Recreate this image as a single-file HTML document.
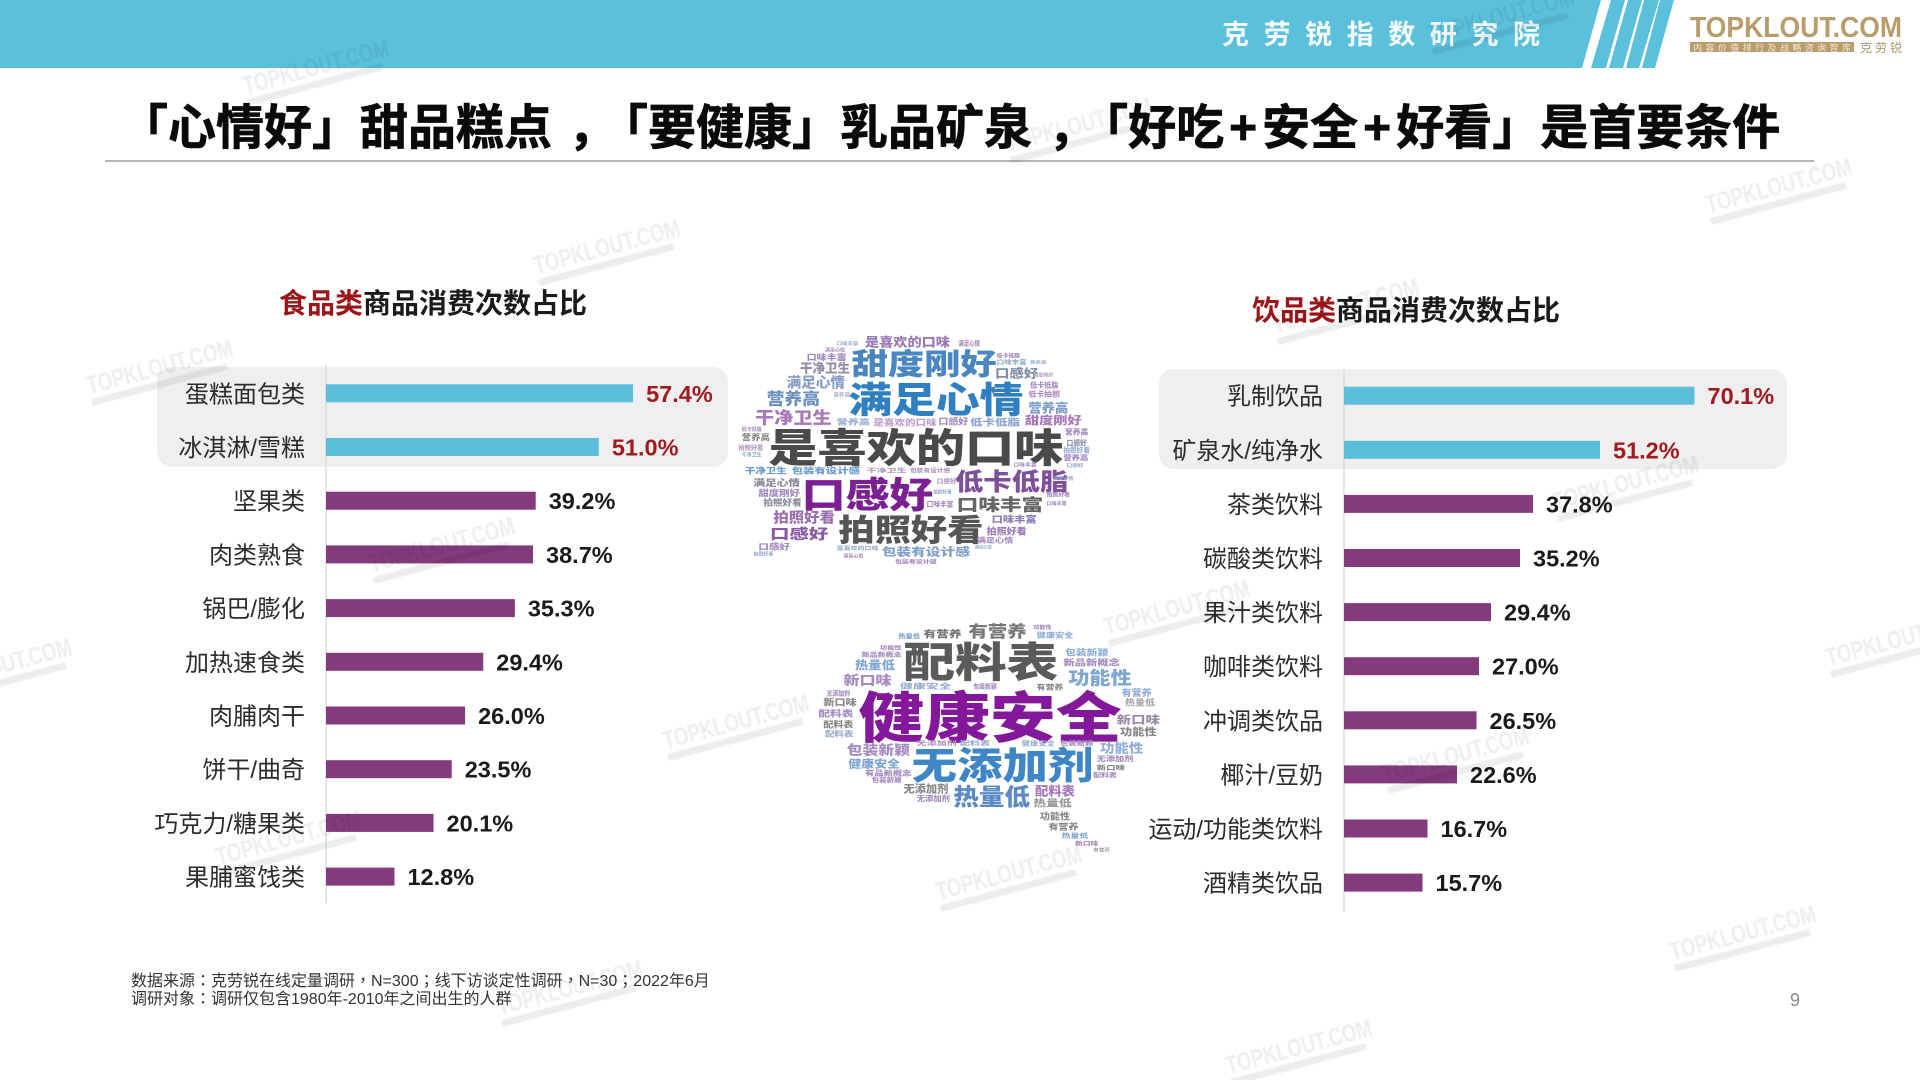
<!DOCTYPE html>
<html lang="zh-CN">
<head>
<meta charset="utf-8">
<title>甜品糕点与乳品矿泉消费次数占比</title>
<style>
html,body{margin:0;padding:0;background:#fff;width:1920px;height:1080px;overflow:hidden}
svg{display:block;font-family:"Liberation Sans","Noto Sans CJK SC",sans-serif;text-spacing-trim:space-all}
.cloud text{font-family:"Noto Sans CJK SC","Liberation Sans",sans-serif;font-weight:900}
.cloud{filter:blur(.35px)}
.wm text{font-family:"Liberation Sans",sans-serif;font-weight:700;font-size:25px;fill:#000;text-anchor:middle}
.wm{opacity:.065;filter:blur(.5px)}
</style>
</head>
<body>
<svg id="slide" width="1920" height="1080" viewBox="0 0 1920 1080" xmlns="http://www.w3.org/2000/svg">
  <g>
    <polygon points="0,0 1601,0 1582,68 0,68" fill="#5bc0dc"/>
    <polygon points="1611,0 1625,0 1606,68 1591,68" fill="#5bc0dc"/>
    <polygon points="1628,0 1642,0 1623,68 1609,68" fill="#5bc0dc"/>
    <polygon points="1644,0 1659,0 1639,68 1626,68" fill="#5bc0dc"/>
    <polygon points="1660,0 1674,0 1655,68 1642,68" fill="#5bc0dc"/>
    <text x="1222" y="44" font-size="27" font-weight="700" fill="#f4fbfd" textLength="318" lengthAdjust="spacing">克劳锐指数研究院</text>
  </g>
  <g>
    <text x="1690" y="37" font-size="29" font-weight="700" fill="#b99c6b" textLength="212" lengthAdjust="spacingAndGlyphs">TOPKLOUT.COM</text>
    <rect x="1690" y="42" width="164" height="10" fill="#b99c6b"/>
    <text x="1693" y="51" font-size="9" fill="#f3ead9" textLength="158" lengthAdjust="spacing">内容价值排行及战略咨询智库</text>
    <text x="1860" y="52" font-size="12" fill="#a8966f" textLength="42" lengthAdjust="spacing">克劳锐</text>
  </g>

  <text x="120" y="144" font-size="48" font-weight="700" fill="#0a0a0a" stroke="#0a0a0a" stroke-width=".7">「心情好」甜品糕点<tspan dx="16">，</tspan><tspan dx="-16">「</tspan>要健康」乳品矿泉<tspan dx="16">，</tspan><tspan dx="-16">「</tspan>好吃<tspan dx="5">+</tspan><tspan dx="5">安</tspan>全<tspan dx="5">+</tspan><tspan dx="5">好</tspan>看」是首要条件</text>
  <line x1="105" y1="161" x2="1814" y2="161" stroke="#8a8a8a" stroke-width="1.2"/>

  <text x="279" y="313" font-size="28" font-weight="700" fill="#1a1a1a"><tspan fill="#9c1518">食品类</tspan>商品消费次数占比</text>
  <text x="1252" y="320" font-size="28" font-weight="700" fill="#1a1a1a"><tspan fill="#9c1518">饮品类</tspan>商品消费次数占比</text>

  <rect x="157" y="367" width="571" height="100" rx="15" fill="#efefef"/>
  <rect x="1159" y="369" width="628" height="100" rx="15" fill="#efefef"/>

  <g id="food-chart"></g>
  <g id="drink-chart"></g>

  <!-- food word cloud: coordinates in 3x crop space -->
  <g class="cloud" transform="translate(720 320) scale(.33333)">
    <text x="145" y="426" font-size="119" textLength="885" lengthAdjust="spacingAndGlyphs" fill="#4a4a4a">是喜欢的口味</text>
    <text x="385" y="277" font-size="108" textLength="525" lengthAdjust="spacingAndGlyphs" fill="#2f7fc1">满足心情</text>
    <text x="395" y="164" font-size="88" textLength="435" lengthAdjust="spacingAndGlyphs" fill="#4a86c0">甜度刚好</text>
    <text x="245" y="562" font-size="108" textLength="395" lengthAdjust="spacingAndGlyphs" fill="#7b1f92">口感好</text>
    <text x="705" y="510" font-size="72" textLength="340" lengthAdjust="spacingAndGlyphs" fill="#7f4f9b">低卡低脂</text>
    <text x="710" y="571" font-size="50" textLength="260" lengthAdjust="spacingAndGlyphs" fill="#666">口味丰富</text>
    <text x="355" y="663" font-size="92" textLength="435" lengthAdjust="spacingAndGlyphs" fill="#555">拍照好看</text>
    <text x="160" y="607" font-size="42" textLength="185" lengthAdjust="spacingAndGlyphs" fill="#9b6fb0">拍照好看</text>
    <text x="150" y="657" font-size="43" textLength="175" lengthAdjust="spacingAndGlyphs" fill="#8a5aa5">口感好</text>
    <text x="815" y="608" font-size="27" textLength="135" lengthAdjust="spacingAndGlyphs" fill="#8b7eb8">口味丰富</text>
    <text x="800" y="643" font-size="27" textLength="120" lengthAdjust="spacingAndGlyphs" fill="#9a7bb5">拍照好看</text>
    <text x="770" y="668" font-size="20" textLength="110" lengthAdjust="spacingAndGlyphs" fill="#a58cc0">满足心情</text>
    <text x="100" y="498" font-size="27" textLength="140" lengthAdjust="spacingAndGlyphs" fill="#8a8a9a">满足心情</text>
    <text x="115" y="528" font-size="25" textLength="125" lengthAdjust="spacingAndGlyphs" fill="#a58cc0">甜度刚好</text>
    <text x="130" y="556" font-size="25" textLength="115" lengthAdjust="spacingAndGlyphs" fill="#8a8a9a">拍照好看</text>
    <text x="140" y="254" font-size="50" textLength="160" lengthAdjust="spacingAndGlyphs" fill="#6f93c0">营养高</text>
    <text x="105" y="311" font-size="49" textLength="230" lengthAdjust="spacingAndGlyphs" fill="#a878b8">干净卫生</text>
    <text x="200" y="202" font-size="43" textLength="175" lengthAdjust="spacingAndGlyphs" fill="#8aa0c5">满足心情</text>
    <text x="240" y="157" font-size="38" textLength="150" lengthAdjust="spacingAndGlyphs" fill="#8f8fa8">干净卫生</text>
    <text x="260" y="120" font-size="24" textLength="120" lengthAdjust="spacingAndGlyphs" fill="#a58cc0">口味丰富</text>
    <text x="435" y="79" font-size="37" textLength="255" lengthAdjust="spacingAndGlyphs" fill="#9a7ab5">是喜欢的口味</text>
    <text x="825" y="172" font-size="35" textLength="130" lengthAdjust="spacingAndGlyphs" fill="#7f8fa8">口感好</text>
    <text x="925" y="277" font-size="38" textLength="120" lengthAdjust="spacingAndGlyphs" fill="#7f9fc8">营养高</text>
    <text x="915" y="312" font-size="33" textLength="170" lengthAdjust="spacingAndGlyphs" fill="#a878b8">甜度刚好</text>
    <text x="750" y="316" font-size="28" textLength="150" lengthAdjust="spacingAndGlyphs" fill="#8fa5d0">低卡低脂</text>
    <text x="655" y="313" font-size="25" textLength="90" lengthAdjust="spacingAndGlyphs" fill="#a58cc0">口感好</text>
    <text x="460" y="316" font-size="25" textLength="190" lengthAdjust="spacingAndGlyphs" fill="#c0a0d0">是喜欢的口味</text>
    <text x="350" y="313" font-size="22" textLength="100" lengthAdjust="spacingAndGlyphs" fill="#9ab0d0">营养高</text>
    <text x="75" y="460" font-size="24" textLength="125" lengthAdjust="spacingAndGlyphs" fill="#6a9ad0">干净卫生</text>
    <text x="215" y="460" font-size="24" textLength="205" lengthAdjust="spacingAndGlyphs" fill="#6a9ad0">包装有设计感</text>
    <text x="440" y="458" font-size="17" textLength="120" lengthAdjust="spacingAndGlyphs" fill="#b09ac0">干净卫生</text>
    <text x="570" y="458" font-size="17" textLength="120" lengthAdjust="spacingAndGlyphs" fill="#b09ac0">包装有设计感</text>
    <text x="485" y="707" font-size="32" textLength="265" lengthAdjust="spacingAndGlyphs" fill="#7f9fc8">包装有设计感</text>
    <text x="115" y="688" font-size="24" textLength="95" lengthAdjust="spacingAndGlyphs" fill="#a58cc0">口感好</text>
    <text x="65" y="360" font-size="24" textLength="85" lengthAdjust="spacingAndGlyphs" fill="#888">营养高</text>
    <text x="65" y="333" font-size="16" textLength="60" lengthAdjust="spacingAndGlyphs" fill="#b09ac0">低卡低脂</text>
    <text x="55" y="390" font-size="18" textLength="75" lengthAdjust="spacingAndGlyphs" fill="#b09ac0">拍照好看</text>
    <text x="65" y="410" font-size="15" textLength="60" lengthAdjust="spacingAndGlyphs" fill="#9ab0d0">干净卫生</text>
    <text x="1035" y="343" font-size="22" textLength="70" lengthAdjust="spacingAndGlyphs" fill="#a58cc0">营养高</text>
    <text x="1040" y="376" font-size="22" textLength="60" lengthAdjust="spacingAndGlyphs" fill="#8f8fa8">口感好</text>
    <text x="1030" y="398" font-size="20" textLength="80" lengthAdjust="spacingAndGlyphs" fill="#9ab0d0">拍照好看</text>
    <text x="1030" y="420" font-size="21" textLength="75" lengthAdjust="spacingAndGlyphs" fill="#a58cc0">营养高</text>
    <text x="1040" y="441" font-size="14" textLength="50" lengthAdjust="spacingAndGlyphs" fill="#9ab0d0">口感好</text>
    <text x="930" y="203" font-size="21" textLength="85" lengthAdjust="spacingAndGlyphs" fill="#a58cc0">低卡低脂</text>
    <text x="925" y="230" font-size="21" textLength="95" lengthAdjust="spacingAndGlyphs" fill="#b08cc0">低卡拍照</text>
    <text x="830" y="133" font-size="18" textLength="90" lengthAdjust="spacingAndGlyphs" fill="#9ab0d0">口味丰富</text>
    <text x="830" y="113" font-size="16" textLength="70" lengthAdjust="spacingAndGlyphs" fill="#a58cc0">低卡低脂</text>
    <text x="715" y="76" font-size="19" textLength="65" lengthAdjust="spacingAndGlyphs" fill="#a58cc0">满足心情</text>
    <text x="350" y="690" font-size="16" textLength="125" lengthAdjust="spacingAndGlyphs" fill="#9ab0d0">是喜欢的口味</text>
    <text x="525" y="730" font-size="16" textLength="125" lengthAdjust="spacingAndGlyphs" fill="#a58cc0">包装有设计感</text>
    <text x="650" y="490" font-size="18" textLength="60" lengthAdjust="spacingAndGlyphs" fill="#b09ac0">口感好</text>
    <text x="620" y="560" font-size="20" textLength="80" lengthAdjust="spacingAndGlyphs" fill="#a58cc0">口味丰富</text>
    <text x="980" y="530" font-size="16" textLength="70" lengthAdjust="spacingAndGlyphs" fill="#a58cc0">拍照好看</text>
    <text x="340" y="230" font-size="15" textLength="50" lengthAdjust="spacingAndGlyphs" fill="#b0b8cc">营养高</text>
    <text x="940" y="170" font-size="13" textLength="60" lengthAdjust="spacingAndGlyphs" fill="#b8a8cc">甜度刚好</text>
    <text x="930" y="130" font-size="12" textLength="50" lengthAdjust="spacingAndGlyphs" fill="#9ab0d0">营养高</text>
    <text x="880" y="440" font-size="15" textLength="70" lengthAdjust="spacingAndGlyphs" fill="#b09ac0">口味丰富</text>
    <text x="1000" y="480" font-size="14" textLength="60" lengthAdjust="spacingAndGlyphs" fill="#9ab0d0">满足心情</text>
    <text x="980" y="555" font-size="14" textLength="60" lengthAdjust="spacingAndGlyphs" fill="#a58cc0">口味丰富</text>
    <text x="640" y="520" font-size="13" textLength="55" lengthAdjust="spacingAndGlyphs" fill="#9ab0d0">拍照好看</text>
    <text x="350" y="75" font-size="13" textLength="65" lengthAdjust="spacingAndGlyphs" fill="#9ab0d0">口味丰富</text>
    <text x="315" y="95" font-size="13" textLength="60" lengthAdjust="spacingAndGlyphs" fill="#a58cc0">满足心情</text>
    <text x="100" y="706" font-size="13" textLength="60" lengthAdjust="spacingAndGlyphs" fill="#9ab0d0">拍照好看</text>
    <text x="370" y="712" font-size="13" textLength="60" lengthAdjust="spacingAndGlyphs" fill="#a58cc0">满足心情</text>
    <text x="765" y="685" font-size="12" textLength="50" lengthAdjust="spacingAndGlyphs" fill="#9ab0d0">满足心情</text>
  </g>

  <!-- drink word cloud: coordinates in 3x crop space -->
  <g class="cloud" transform="translate(810 600) scale(.33333)">
    <text x="145" y="412" font-size="166" textLength="790" lengthAdjust="spacingAndGlyphs" fill="#84189a">健康安全</text>
    <text x="280" y="231" font-size="124" textLength="465" lengthAdjust="spacingAndGlyphs" fill="#5a5a5a">配料表</text>
    <text x="305" y="537" font-size="113" textLength="545" lengthAdjust="spacingAndGlyphs" fill="#3f86c6">无添加剂</text>
    <text x="430" y="615" font-size="70" textLength="230" lengthAdjust="spacingAndGlyphs" fill="#5b8ac5">热量低</text>
    <text x="475" y="111" font-size="48" textLength="175" lengthAdjust="spacingAndGlyphs" fill="#777">有营养</text>
    <text x="340" y="113" font-size="29" textLength="115" lengthAdjust="spacingAndGlyphs" fill="#777">有营养</text>
    <text x="135" y="207" font-size="34" textLength="120" lengthAdjust="spacingAndGlyphs" fill="#7fa5d0">热量低</text>
    <text x="100" y="255" font-size="39" textLength="145" lengthAdjust="spacingAndGlyphs" fill="#a58cc0">新口味</text>
    <text x="775" y="254" font-size="54" textLength="190" lengthAdjust="spacingAndGlyphs" fill="#7fa5d0">功能性</text>
    <text x="110" y="465" font-size="41" textLength="190" lengthAdjust="spacingAndGlyphs" fill="#a58cc0">包装新颖</text>
    <text x="115" y="503" font-size="32" textLength="155" lengthAdjust="spacingAndGlyphs" fill="#7fa5d0">健康安全</text>
    <text x="870" y="457" font-size="38" textLength="130" lengthAdjust="spacingAndGlyphs" fill="#8fb0d8">功能性</text>
    <text x="930" y="406" font-size="30" textLength="110" lengthAdjust="spacingAndGlyphs" fill="#888">功能性</text>
    <text x="920" y="370" font-size="32" textLength="130" lengthAdjust="spacingAndGlyphs" fill="#9a8aa8">新口味</text>
    <text x="935" y="288" font-size="27" textLength="90" lengthAdjust="spacingAndGlyphs" fill="#8fb0d8">有营养</text>
    <text x="945" y="316" font-size="25" textLength="90" lengthAdjust="spacingAndGlyphs" fill="#aaa">热量低</text>
    <text x="675" y="587" font-size="38" textLength="120" lengthAdjust="spacingAndGlyphs" fill="#a878b8">配料表</text>
    <text x="670" y="620" font-size="29" textLength="115" lengthAdjust="spacingAndGlyphs" fill="#999">热量低</text>
    <text x="280" y="578" font-size="32" textLength="135" lengthAdjust="spacingAndGlyphs" fill="#888">无添加剂</text>
    <text x="320" y="603" font-size="22" textLength="100" lengthAdjust="spacingAndGlyphs" fill="#a58cc0">无添加剂</text>
    <text x="690" y="658" font-size="27" textLength="90" lengthAdjust="spacingAndGlyphs" fill="#888">功能性</text>
    <text x="715" y="688" font-size="24" textLength="90" lengthAdjust="spacingAndGlyphs" fill="#888">有营养</text>
    <text x="755" y="714" font-size="18" textLength="80" lengthAdjust="spacingAndGlyphs" fill="#7fa5d0">热量低</text>
    <text x="795" y="737" font-size="17" textLength="70" lengthAdjust="spacingAndGlyphs" fill="#a58cc0">新口味</text>
    <text x="850" y="754" font-size="14" textLength="50" lengthAdjust="spacingAndGlyphs" fill="#aaa">有营养</text>
    <text x="760" y="196" font-size="25" textLength="170" lengthAdjust="spacingAndGlyphs" fill="#a58cc0">新品新概念</text>
    <text x="765" y="166" font-size="25" textLength="130" lengthAdjust="spacingAndGlyphs" fill="#8fb0d8">包装新颖</text>
    <text x="210" y="149" font-size="16" textLength="65" lengthAdjust="spacingAndGlyphs" fill="#a58cc0">功能性</text>
    <text x="155" y="171" font-size="18" textLength="120" lengthAdjust="spacingAndGlyphs" fill="#a58cc0">新品新概念</text>
    <text x="50" y="286" font-size="19" textLength="70" lengthAdjust="spacingAndGlyphs" fill="#a58cc0">无添加剂</text>
    <text x="40" y="316" font-size="28" textLength="100" lengthAdjust="spacingAndGlyphs" fill="#888">新口味</text>
    <text x="25" y="350" font-size="26" textLength="105" lengthAdjust="spacingAndGlyphs" fill="#a58cc0">配料表</text>
    <text x="40" y="383" font-size="25" textLength="90" lengthAdjust="spacingAndGlyphs" fill="#888">配料表</text>
    <text x="45" y="410" font-size="22" textLength="85" lengthAdjust="spacingAndGlyphs" fill="#9ab0d0">配料表</text>
    <text x="270" y="266" font-size="21" textLength="155" lengthAdjust="spacingAndGlyphs" fill="#9ab0d0">健康安全</text>
    <text x="490" y="266" font-size="19" textLength="70" lengthAdjust="spacingAndGlyphs" fill="#a58cc0">包装新颖</text>
    <text x="680" y="268" font-size="21" textLength="80" lengthAdjust="spacingAndGlyphs" fill="#888">有营养</text>
    <text x="860" y="483" font-size="21" textLength="110" lengthAdjust="spacingAndGlyphs" fill="#a58cc0">无添加剂</text>
    <text x="860" y="510" font-size="18" textLength="85" lengthAdjust="spacingAndGlyphs" fill="#888">新口味</text>
    <text x="850" y="533" font-size="18" textLength="70" lengthAdjust="spacingAndGlyphs" fill="#a58cc0">配料表</text>
    <text x="635" y="436" font-size="19" textLength="100" lengthAdjust="spacingAndGlyphs" fill="#9ab0d0">健康安全</text>
    <text x="165" y="526" font-size="21" textLength="140" lengthAdjust="spacingAndGlyphs" fill="#a58cc0">有品新概念</text>
    <text x="185" y="546" font-size="19" textLength="90" lengthAdjust="spacingAndGlyphs" fill="#a58cc0">包装新颖</text>
    <text x="265" y="116" font-size="18" textLength="65" lengthAdjust="spacingAndGlyphs" fill="#7fa5d0">热量低</text>
    <text x="670" y="87" font-size="16" textLength="55" lengthAdjust="spacingAndGlyphs" fill="#a58cc0">功能性</text>
    <text x="680" y="113" font-size="20" textLength="110" lengthAdjust="spacingAndGlyphs" fill="#8fb0d8">健康安全</text>
    <text x="320" y="436" font-size="18" textLength="120" lengthAdjust="spacingAndGlyphs" fill="#b09ac0">无添加剂</text>
    <text x="450" y="436" font-size="18" textLength="90" lengthAdjust="spacingAndGlyphs" fill="#9ab0d0">配料表</text>
    <text x="750" y="436" font-size="18" textLength="100" lengthAdjust="spacingAndGlyphs" fill="#a58cc0">包装新颖</text>
  </g>

  <g lang="zh-Hant" font-size="16" fill="#333" style='font-family:"Liberation Sans","Noto Sans CJK TC",sans-serif'>
    <text x="131" y="986">数据来源：克劳锐在线定量调研，N=300；线下访谈定性调研，N=30；2022年6月</text>
    <text x="131" y="1004">调研对象：调研仅包含1980年-2010年之间出生的人群</text>
  </g>
  <text x="1790" y="1006" font-size="18" fill="#8a8a8a">9</text>

  <g transform="translate(3 4)">
    <g class="wm" transform="translate(315 71) rotate(-15)"><text y="0" textLength="150" lengthAdjust="spacingAndGlyphs">TOPKLOUT.COM</text><rect x="-75" y="5" width="140" height="7"/></g>
    <g class="wm" transform="translate(606 251) rotate(-15)"><text y="0" textLength="150" lengthAdjust="spacingAndGlyphs">TOPKLOUT.COM</text><rect x="-75" y="5" width="140" height="7"/></g>
    <g class="wm" transform="translate(159 371) rotate(-15)"><text y="0" textLength="150" lengthAdjust="spacingAndGlyphs">TOPKLOUT.COM</text><rect x="-75" y="5" width="140" height="7"/></g>
    <g class="wm" transform="translate(441 549) rotate(-15)"><text y="0" textLength="150" lengthAdjust="spacingAndGlyphs">TOPKLOUT.COM</text><rect x="-75" y="5" width="140" height="7"/></g>
    <g class="wm" transform="translate(735 726) rotate(-15)"><text y="0" textLength="150" lengthAdjust="spacingAndGlyphs">TOPKLOUT.COM</text><rect x="-75" y="5" width="140" height="7"/></g>
    <g class="wm" transform="translate(288 842) rotate(-15)"><text y="0" textLength="150" lengthAdjust="spacingAndGlyphs">TOPKLOUT.COM</text><rect x="-75" y="5" width="140" height="7"/></g>
    <g class="wm" transform="translate(-2 670) rotate(-15)"><text y="0" textLength="150" lengthAdjust="spacingAndGlyphs">TOPKLOUT.COM</text><rect x="-75" y="5" width="140" height="7"/></g>
    <g class="wm" transform="translate(1778 190) rotate(-15)"><text y="0" textLength="150" lengthAdjust="spacingAndGlyphs">TOPKLOUT.COM</text><rect x="-75" y="5" width="140" height="7"/></g>
    <g class="wm" transform="translate(1625 487) rotate(-15)"><text y="0" textLength="150" lengthAdjust="spacingAndGlyphs">TOPKLOUT.COM</text><rect x="-75" y="5" width="140" height="7"/></g>
    <g class="wm" transform="translate(1176 612) rotate(-15)"><text y="0" textLength="150" lengthAdjust="spacingAndGlyphs">TOPKLOUT.COM</text><rect x="-75" y="5" width="140" height="7"/></g>
    <g class="wm" transform="translate(1455 759) rotate(-15)"><text y="0" textLength="150" lengthAdjust="spacingAndGlyphs">TOPKLOUT.COM</text><rect x="-75" y="5" width="140" height="7"/></g>
    <g class="wm" transform="translate(1898 643) rotate(-15)"><text y="0" textLength="150" lengthAdjust="spacingAndGlyphs">TOPKLOUT.COM</text><rect x="-75" y="5" width="140" height="7"/></g>
    <g class="wm" transform="translate(1742 937) rotate(-15)"><text y="0" textLength="150" lengthAdjust="spacingAndGlyphs">TOPKLOUT.COM</text><rect x="-75" y="5" width="140" height="7"/></g>
    <g class="wm" transform="translate(1008 877) rotate(-15)"><text y="0" textLength="150" lengthAdjust="spacingAndGlyphs">TOPKLOUT.COM</text><rect x="-75" y="5" width="140" height="7"/></g>
    <g class="wm" transform="translate(1298 1051) rotate(-15)"><text y="0" textLength="150" lengthAdjust="spacingAndGlyphs">TOPKLOUT.COM</text><rect x="-75" y="5" width="140" height="7"/></g>
    <g class="wm" transform="translate(569 992) rotate(-15)"><text y="0" textLength="150" lengthAdjust="spacingAndGlyphs">TOPKLOUT.COM</text><rect x="-75" y="5" width="140" height="7"/></g>
    <g class="wm" transform="translate(1078 129) rotate(-15)"><text y="0" textLength="150" lengthAdjust="spacingAndGlyphs">TOPKLOUT.COM</text><rect x="-75" y="5" width="140" height="7"/></g>
    <g class="wm" transform="translate(1500 20) rotate(-15)"><text y="0" textLength="150" lengthAdjust="spacingAndGlyphs">TOPKLOUT.COM</text><rect x="-75" y="5" width="140" height="7"/></g>
    <g class="wm" transform="translate(1345 310) rotate(-15)"><text y="0" textLength="150" lengthAdjust="spacingAndGlyphs">TOPKLOUT.COM</text><rect x="-75" y="5" width="140" height="7"/></g>
  </g>
</svg>

<script>
var foodCategories = ['蛋糕面包类','冰淇淋/雪糕','坚果类','肉类熟食','锅巴/膨化','加热速食类','肉脯肉干','饼干/曲奇','巧克力/糖果类','果脯蜜饯类'];
var foodValues = [57.4,51.0,39.2,38.7,35.3,29.4,26.0,23.5,20.1,12.8];
var drinkCategories = ['乳制饮品','矿泉水/纯净水','茶类饮料','碳酸类饮料','果汁类饮料','咖啡类饮料','冲调类饮品','椰汁/豆奶','运动/功能类饮料','酒精类饮品'];
var drinkValues = [70.1,51.2,37.8,35.2,29.4,27.0,26.5,22.6,16.7,15.7];

var SVG_NS = 'http://www.w3.org/2000/svg';

function foodX(v){ return 326 + v * 5.35; }
function foodY(i){ return 393.3 + i * 53.7; }
function drinkX(v){ return 1344 + v * 5.0; }
function drinkY(i){ return 395.7 + i * 54.1; }

function drawChart(groupId, prefix, categories, values, xFn, yFn, axisTop, axisBottom){
  var g = document.getElementById(groupId);
  var axis = document.createElementNS(SVG_NS, 'line');
  
  
  axis.setAttribute('x1', xFn(0));
  axis.setAttribute('x2', xFn(0));
  axis.setAttribute('y1', axisTop);
  axis.setAttribute('y2', axisBottom);
  axis.setAttribute('stroke', '#d6d6d6');
  axis.setAttribute('stroke-width', '1.2');
  g.appendChild(axis);
  for (var i = 0; i < values.length; i++) {
    var highlighted = i < 2;
    var cy = yFn(i);
    var bar = document.createElementNS(SVG_NS, 'rect');
    
    
    bar.setAttribute('x', xFn(0));
    bar.setAttribute('y', cy - 9);
    bar.setAttribute('width', xFn(values[i]) - xFn(0));
    bar.setAttribute('height', 18);
    bar.setAttribute('fill', highlighted ? '#5bbfdb' : '#843b7d');
    g.appendChild(bar);

    var label = document.createElementNS(SVG_NS, 'text');
    
    
    label.setAttribute('x', xFn(0) - 21);
    label.setAttribute('y', cy + 9);
    label.setAttribute('text-anchor', 'end');
    label.setAttribute('font-size', 24);
    label.setAttribute('fill', '#2c2c2c');
    label.textContent = categories[i];
    g.appendChild(label);

    var val = document.createElementNS(SVG_NS, 'text');
    
    
    val.setAttribute('x', xFn(values[i]) + 13);
    val.setAttribute('y', cy + 8.5);
    val.setAttribute('font-size', 23.5);
    val.setAttribute('font-weight', 700);
    val.setAttribute('fill', highlighted ? '#a01a1e' : '#1a1a1a');
    val.textContent = values[i].toFixed(1) + '%';
    g.appendChild(val);
  }
}

drawChart('food-chart', 'food', foodCategories, foodValues, foodX, foodY, 365, 903);
drawChart('drink-chart', 'drink', drinkCategories, drinkValues, drinkX, drinkY, 369, 912);
</script>
</body>
</html>
